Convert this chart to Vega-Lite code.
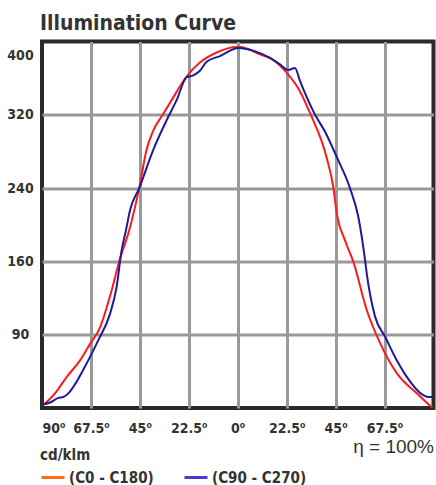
{
  "$schema": "https://vega.github.io/schema/vega-lite/v6.json",
  "autosize": {"type": "none"},
  "width": 391.5,
  "height": 366.5,
  "padding": {"left": 42, "top": 41.5, "right": 2.5, "bottom": 77},
  "background": "white",
  "config": {
    "view": {"stroke": "#2b2b2b", "strokeWidth": 4},
    "font": "DejaVu Sans Condensed, sans-serif"
  },
  "title": {
    "text": "Illumination Curve",
    "anchor": "start",
    "frame": "group",
    "font": "DejaVu Sans Condensed, sans-serif",
    "fontSize": 21,
    "fontWeight": "bold",
    "color": "#333333",
    "offset": 8,
    "dx": -2
  },
  "data": {
    "values": [
      {"series": "(C0 - C180)", "angle": -89.1, "value": 4},
      {"series": "(C0 - C180)", "angle": -84.0, "value": 16},
      {"series": "(C0 - C180)", "angle": -78.6, "value": 34},
      {"series": "(C0 - C180)", "angle": -72.5, "value": 52},
      {"series": "(C0 - C180)", "angle": -67.9, "value": 70},
      {"series": "(C0 - C180)", "angle": -63.3, "value": 88},
      {"series": "(C0 - C180)", "angle": -61.8, "value": 98},
      {"series": "(C0 - C180)", "angle": -57.9, "value": 129},
      {"series": "(C0 - C180)", "angle": -54.5, "value": 160},
      {"series": "(C0 - C180)", "angle": -49.9, "value": 194},
      {"series": "(C0 - C180)", "angle": -45.3, "value": 240},
      {"series": "(C0 - C180)", "angle": -41.9, "value": 282},
      {"series": "(C0 - C180)", "angle": -38.8, "value": 303},
      {"series": "(C0 - C180)", "angle": -34.5, "value": 320},
      {"series": "(C0 - C180)", "angle": -30.4, "value": 336},
      {"series": "(C0 - C180)", "angle": -23.8, "value": 361},
      {"series": "(C0 - C180)", "angle": -17.4, "value": 377},
      {"series": "(C0 - C180)", "angle": -9.7, "value": 388},
      {"series": "(C0 - C180)", "angle": -0.5, "value": 394},
      {"series": "(C0 - C180)", "angle": 1.0, "value": 394},
      {"series": "(C0 - C180)", "angle": 10.2, "value": 386},
      {"series": "(C0 - C180)", "angle": 16.3, "value": 380},
      {"series": "(C0 - C180)", "angle": 22.5, "value": 366},
      {"series": "(C0 - C180)", "angle": 27.8, "value": 349},
      {"series": "(C0 - C180)", "angle": 33.2, "value": 322},
      {"series": "(C0 - C180)", "angle": 40.9, "value": 273},
      {"series": "(C0 - C180)", "angle": 44.0, "value": 240},
      {"series": "(C0 - C180)", "angle": 45.5, "value": 213},
      {"series": "(C0 - C180)", "angle": 49.3, "value": 183},
      {"series": "(C0 - C180)", "angle": 53.1, "value": 160},
      {"series": "(C0 - C180)", "angle": 59.3, "value": 107},
      {"series": "(C0 - C180)", "angle": 65.4, "value": 71},
      {"series": "(C0 - C180)", "angle": 73.1, "value": 38},
      {"series": "(C0 - C180)", "angle": 82.3, "value": 16},
      {"series": "(C0 - C180)", "angle": 89.5, "value": 0},
      {"series": "(C90 - C270)", "angle": -89.1, "value": 4},
      {"series": "(C90 - C270)", "angle": -86.3, "value": 6},
      {"series": "(C90 - C270)", "angle": -82.5, "value": 11},
      {"series": "(C90 - C270)", "angle": -80.2, "value": 12},
      {"series": "(C90 - C270)", "angle": -77.9, "value": 16},
      {"series": "(C90 - C270)", "angle": -75.6, "value": 23},
      {"series": "(C90 - C270)", "angle": -69.4, "value": 49},
      {"series": "(C90 - C270)", "angle": -64.1, "value": 74},
      {"series": "(C90 - C270)", "angle": -58.7, "value": 103},
      {"series": "(C90 - C270)", "angle": -55.7, "value": 132},
      {"series": "(C90 - C270)", "angle": -53.4, "value": 172},
      {"series": "(C90 - C270)", "angle": -51.4, "value": 194},
      {"series": "(C90 - C270)", "angle": -49.5, "value": 216},
      {"series": "(C90 - C270)", "angle": -45.3, "value": 240},
      {"series": "(C90 - C270)", "angle": -38.8, "value": 282},
      {"series": "(C90 - C270)", "angle": -32.7, "value": 314},
      {"series": "(C90 - C270)", "angle": -28.1, "value": 336},
      {"series": "(C90 - C270)", "angle": -23.5, "value": 361},
      {"series": "(C90 - C270)", "angle": -20.4, "value": 363},
      {"series": "(C90 - C270)", "angle": -17.4, "value": 368},
      {"series": "(C90 - C270)", "angle": -14.3, "value": 378},
      {"series": "(C90 - C270)", "angle": -8.2, "value": 384},
      {"series": "(C90 - C270)", "angle": 0.3, "value": 393},
      {"series": "(C90 - C270)", "angle": 7.1, "value": 390},
      {"series": "(C90 - C270)", "angle": 14.8, "value": 382},
      {"series": "(C90 - C270)", "angle": 19.4, "value": 375},
      {"series": "(C90 - C270)", "angle": 23.2, "value": 369},
      {"series": "(C90 - C270)", "angle": 26.3, "value": 371},
      {"series": "(C90 - C270)", "angle": 28.6, "value": 357},
      {"series": "(C90 - C270)", "angle": 34.7, "value": 324},
      {"series": "(C90 - C270)", "angle": 40.9, "value": 298},
      {"series": "(C90 - C270)", "angle": 45.5, "value": 274},
      {"series": "(C90 - C270)", "angle": 51.6, "value": 240},
      {"series": "(C90 - C270)", "angle": 55.4, "value": 209},
      {"series": "(C90 - C270)", "angle": 58.5, "value": 162},
      {"series": "(C90 - C270)", "angle": 59.3, "value": 147},
      {"series": "(C90 - C270)", "angle": 63.1, "value": 100},
      {"series": "(C90 - C270)", "angle": 67.7, "value": 78},
      {"series": "(C90 - C270)", "angle": 73.1, "value": 52},
      {"series": "(C90 - C270)", "angle": 77.7, "value": 34},
      {"series": "(C90 - C270)", "angle": 85.3, "value": 14},
      {"series": "(C90 - C270)", "angle": 87.5, "value": 12},
      {"series": "(C90 - C270)", "angle": 89.5, "value": 12}
    ]
  },
  "encoding": {
    "x": {
      "field": "angle",
      "type": "quantitative",
      "scale": {"domain": [-90, 90], "nice": false, "zero": false},
      "axis": {
        "values": [-90, -67.5, -45, -22.5, 0, 22.5, 45, 67.5],
        "labelExpr": "abs(datum.value) + '⁰'",
        "labelFlush": true,
        "labelFont": "DejaVu Sans Condensed, sans-serif",
        "labelFontSize": 14,
        "labelFontWeight": "bold",
        "labelColor": "#333333",
        "labelPadding": 13,
        "ticks": false,
        "domain": false,
        "grid": true,
        "gridColor": "#999999",
        "gridWidth": 3,
        "gridOpacity": {"condition": {"test": "datum.value == -90", "value": 0}, "value": 1},
        "title": "η = 100%",
        "titleAnchor": "end",
        "titleFont": "Liberation Sans, DejaVu Sans, sans-serif",
        "titleFontSize": 19,
        "titleFontWeight": "normal",
        "titleColor": "#333333",
        "titlePadding": 2
      }
    },
    "y": {
      "field": "value",
      "type": "quantitative",
      "scale": {"domain": [0, 400], "nice": false},
      "axis": {
        "values": [80, 160, 240, 320, 400],
        "labelExpr": "datum.value == 80 ? '90' : datum.label",
        "labelFont": "DejaVu Sans Condensed, sans-serif",
        "labelFontSize": 14,
        "labelFontWeight": "bold",
        "labelColor": "#333333",
        "labelAlign": "center",
        "labelPadding": 22,
        "labelOffset": {"condition": {"test": "datum.value == 400", "value": 14}, "value": 0},
        "ticks": false,
        "domain": false,
        "grid": true,
        "gridColor": "#999999",
        "gridWidth": 3,
        "gridOpacity": {"condition": {"test": "datum.value == 400", "value": 0}, "value": 1},
        "title": null
      }
    }
  },
  "layer": [
    {
      "mark": {"type": "line", "strokeWidth": 2, "strokeOpacity": 0, "interpolate": "monotone", "clip": true},
      "encoding": {
        "color": {
          "field": "series",
          "type": "nominal",
          "scale": {"domain": ["(C0 - C180)", "(C90 - C270)"], "range": ["#ff6a1a", "#4a3acc"]},
          "legend": {
            "orient": "none",
            "legendX": -2,
            "legendY": 406,
            "direction": "horizontal",
            "title": "cd/klm",
            "titleFont": "DejaVu Sans Condensed, sans-serif",
            "titleFontSize": 15,
            "titleFontWeight": "bold",
            "titleColor": "#333333",
            "titlePadding": 2,
            "labelFont": "DejaVu Sans Condensed, sans-serif",
            "labelFontSize": 15,
            "labelFontWeight": "bold",
            "labelColor": "#333333",
            "labelOffset": 3,
            "symbolType": "stroke",
            "symbolSize": 529,
            "symbolStrokeWidth": 3,
            "symbolOpacity": 1,
            "columnPadding": 24,
            "encode": {"symbols": {"update": {"strokeOpacity": {"value": 1}, "opacity": {"value": 1}}}}
          }
        }
      }
    },
    {
      "mark": {"type": "line", "strokeWidth": 2, "interpolate": "monotone", "clip": true},
      "encoding": {
        "stroke": {
          "field": "series",
          "type": "nominal",
          "scale": {"domain": ["(C0 - C180)", "(C90 - C270)"], "range": ["#ff1a1a", "#1f1a99"]},
          "legend": null
        }
      }
    }
  ]
}
